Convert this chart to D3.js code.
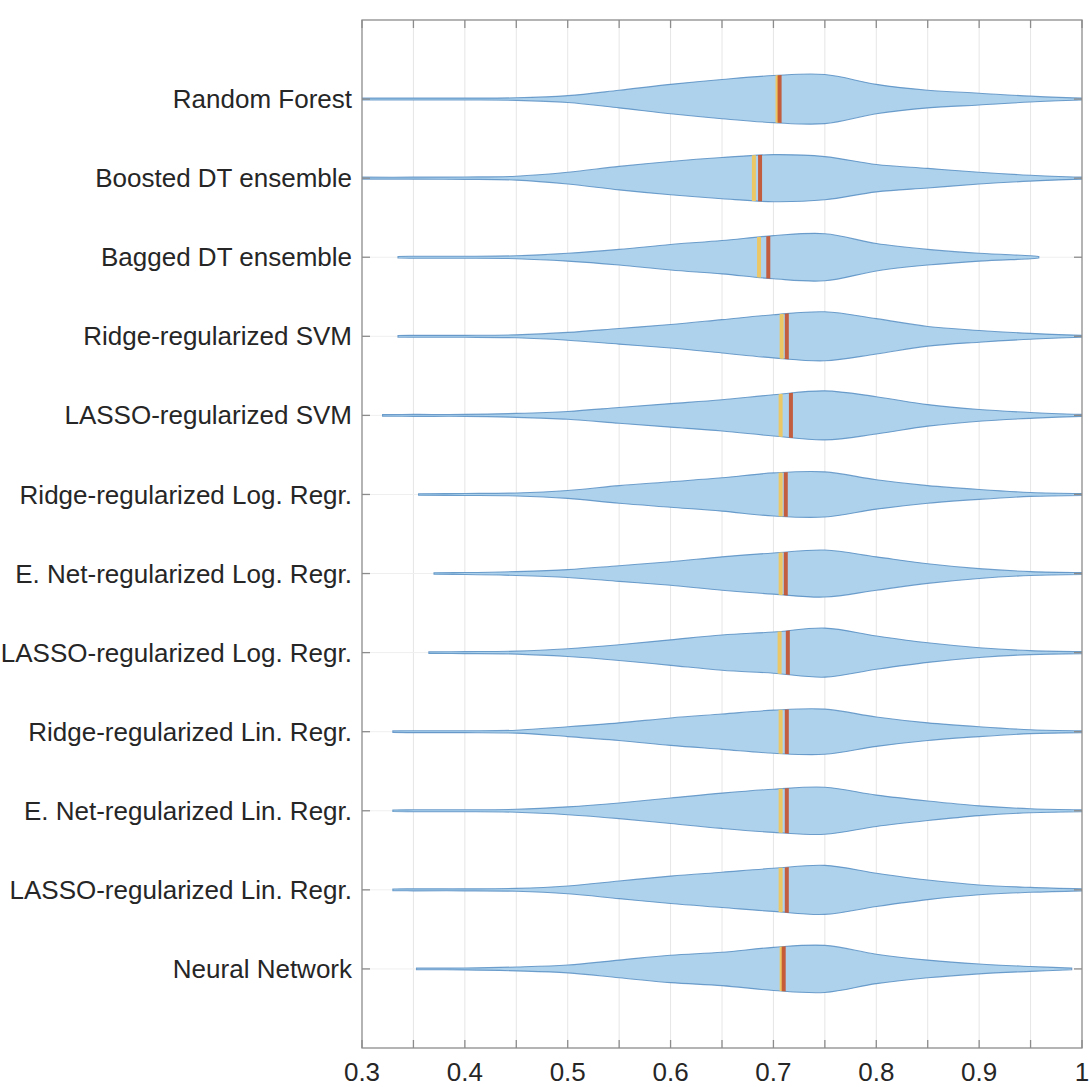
<!DOCTYPE html>
<html>
<head>
<meta charset="utf-8">
<script src="https://cdn.jsdelivr.net/npm/d3@7"></script>
<style>
  html, body { margin: 0; padding: 0; background: #fff; }
  svg { display: block; font-family: "Liberation Sans", Arial, Helvetica, sans-serif; }
</style>
</head>
<body>
<svg id="chart" width="1090" height="1087"></svg>
<script>
// Model names, top to bottom
const models = [
  "Random Forest",
  "Boosted DT ensemble",
  "Bagged DT ensemble",
  "Ridge-regularized SVM",
  "LASSO-regularized SVM",
  "Ridge-regularized Log. Regr.",
  "E. Net-regularized Log. Regr.",
  "LASSO-regularized Log. Regr.",
  "Ridge-regularized Lin. Regr.",
  "E. Net-regularized Lin. Regr.",
  "LASSO-regularized Lin. Regr.",
  "Neural Network"
];

// Score grid on which the kernel densities are tabulated
const scoreGrid = [0.30, 0.35, 0.40, 0.45, 0.50, 0.55, 0.60, 0.65, 0.70, 0.75, 0.80, 0.85, 0.90, 0.95, 1.00];

// Relative kernel density per model at each grid score (null = outside observed range)
const densities = [
  [1, 1, 1, 1.3, 3.5, 9, 15, 20, 24, 25, 15, 9, 6, 3, 1],
  [1, 1, 1.2, 2, 6, 12, 17, 21, 24, 22, 14, 10, 6, 3, 1],
  [null, 1, 1, 1.5, 4, 8, 13, 17, 22, 24, 14, 8, 4, 1.5, null],
  [null, 1, 1, 1.5, 4, 8, 12, 17, 22, 25, 18, 10, 6, 3, 1],
  [null, 1, 1, 2, 4, 8, 12, 16, 21, 25, 19, 11, 6, 3, 1],
  [null, null, 1, 1.5, 4, 9, 13, 17, 22, 23, 15, 9, 5, 2, 1],
  [null, null, 1, 2, 4, 8, 12, 17, 21, 24, 17, 10, 5, 2, 1],
  [null, null, 1, 1.5, 4, 8, 13, 18, 21, 25, 17, 10, 5, 2, 1],
  [null, 1, 1, 1.5, 5, 9, 14, 18, 22, 23, 15, 9, 5, 2, 1],
  [null, 1, 1, 1.5, 4, 8, 13, 18, 22, 24, 16, 10, 5, 2, 1],
  [null, 1, 1, 1.5, 4, 9, 14, 18, 22, 25, 17, 10, 5, 2.5, 1],
  [null, 1, 1, 2, 4, 9, 14, 17, 22, 24, 15, 9, 5, 2.5, 1]
];

// Observed minimum and maximum score per model
const minScore = [0.30, 0.30, 0.335, 0.335, 0.32, 0.355, 0.37, 0.365, 0.33, 0.33, 0.33, 0.353];
const maxScore = [1.00, 1.00, 0.958, 1.00, 1.00, 1.00, 1.00, 1.00, 1.00, 1.00, 1.00, 0.99];

// Mean and median score per model
const meanScore   = [0.704, 0.681, 0.686, 0.708, 0.707, 0.707, 0.707, 0.706, 0.707, 0.707, 0.707, 0.708];
const medianScore = [0.706, 0.687, 0.695, 0.713, 0.717, 0.712, 0.712, 0.714, 0.713, 0.713, 0.713, 0.710];

// Axis ticks
const xTicks = [0.30, 0.35, 0.40, 0.45, 0.50, 0.55, 0.60, 0.65, 0.70, 0.75, 0.80, 0.85, 0.90, 0.95, 1.00];
const xTickLabels = ["0.3", "", "0.4", "", "0.5", "", "0.6", "", "0.7", "", "0.8", "", "0.9", "", "1"];

// ---- layout ----
const svg = d3.select("#chart");
const plot = { left: 362, right: 1082, top: 20, bottom: 1048 };
const axisColor = "#8c8c8c";
const textColor = "#262626";
const fontSize = 26;
const tickLen = 8;

const x = d3.scaleLinear().domain([0.3, 1.0]).range([plot.left, plot.right]);
const y = d3.scaleLinear().domain([0, models.length + 1]).range([plot.top, plot.bottom]);
const halfWidth = d3.scaleLinear().domain([0, 25]).range([0, 0.31 * (y(1) - y(0))]);

svg.append("defs").append("clipPath").attr("id", "plotClip")
  .append("rect")
  .attr("x", plot.left).attr("y", plot.top)
  .attr("width", plot.right - plot.left).attr("height", plot.bottom - plot.top);

// grid
const grid = svg.append("g");
grid.selectAll("line.vg").data(xTicks.slice(1, -1)).join("line")
  .attr("x1", d => x(d)).attr("x2", d => x(d))
  .attr("y1", plot.top).attr("y2", plot.bottom)
  .attr("stroke", "#e6e6e6").attr("stroke-width", 1);
grid.selectAll("line.hg").data(models).join("line")
  .attr("x1", plot.left).attr("x2", plot.right)
  .attr("y1", (d, i) => y(i + 1)).attr("y2", (d, i) => y(i + 1))
  .attr("stroke", "#efefef").attr("stroke-width", 1);

// violins
const area = d3.area()
  .x(d => x(d[0]))
  .y0(d => -halfWidth(d[1]))
  .y1(d => halfWidth(d[1]))
  .curve(d3.curveCatmullRom.alpha(0.5));

const violins = svg.append("g").attr("clip-path", "url(#plotClip)");
const defs = svg.select("defs");

models.forEach((name, i) => {
  const pts = [];
  const lo = minScore[i], hi = maxScore[i];
  if (densities[i][0] === null || lo > scoreGrid[0]) pts.push([lo, 0.8]);
  scoreGrid.forEach((s, k) => {
    const v = densities[i][k];
    if (v !== null && s >= lo && s <= hi) pts.push([s, v]);
  });
  if (pts[pts.length - 1][0] < hi) pts.push([hi, 0.8]);

  const g = violins.append("g").attr("transform", `translate(0,${y(i + 1)})`);
  const pathD = area(pts);

  defs.append("clipPath").attr("id", "vclip" + i)
    .append("path").attr("d", pathD);

  g.append("path")
    .attr("d", pathD)
    .attr("fill", "rgb(174, 210, 236)")
    .attr("stroke", "rgb(80, 138, 192)")
    .attr("stroke-opacity", 0.8)
    .attr("stroke-width", 1.1);

  const h = halfWidth(26);
  const lines = g.append("g").attr("clip-path", `url(#vclip${i})`);
  lines.append("line")
    .attr("x1", x(meanScore[i])).attr("x2", x(meanScore[i]))
    .attr("y1", -h).attr("y2", h)
    .attr("stroke", "#ebc766").attr("stroke-width", 4);
  lines.append("line")
    .attr("x1", x(medianScore[i])).attr("x2", x(medianScore[i]))
    .attr("y1", -h).attr("y2", h)
    .attr("stroke", "#c4502c").attr("stroke-opacity", 0.9).attr("stroke-width", 4);
});

// axes box
const ax = svg.append("g").attr("stroke", axisColor).attr("stroke-width", 1.3).attr("fill", "none");
ax.append("rect")
  .attr("x", plot.left).attr("y", plot.top)
  .attr("width", plot.right - plot.left).attr("height", plot.bottom - plot.top);

// x ticks (bottom and top, inward)
xTicks.forEach(t => {
  ax.append("line").attr("x1", x(t)).attr("x2", x(t)).attr("y1", plot.bottom).attr("y2", plot.bottom - tickLen);
  ax.append("line").attr("x1", x(t)).attr("x2", x(t)).attr("y1", plot.top).attr("y2", plot.top + tickLen);
});
// y ticks (left and right, inward)
models.forEach((m, i) => {
  ax.append("line").attr("x1", plot.left).attr("x2", plot.left + tickLen).attr("y1", y(i + 1)).attr("y2", y(i + 1));
  ax.append("line").attr("x1", plot.right).attr("x2", plot.right - tickLen).attr("y1", y(i + 1)).attr("y2", y(i + 1));
});

// x tick labels
svg.append("g").selectAll("text").data(xTicks).join("text")
  .attr("x", d => x(d))
  .attr("y", plot.bottom + 33)
  .attr("text-anchor", "middle")
  .attr("font-size", fontSize)
  .attr("fill", textColor)
  .text((d, i) => xTickLabels[i]);

// category labels
svg.append("g").selectAll("text").data(models).join("text")
  .attr("x", plot.left - 10)
  .attr("y", (d, i) => y(i + 1))
  .attr("dy", "0.35em")
  .attr("text-anchor", "end")
  .attr("font-size", fontSize)
  .attr("fill", textColor)
  .text(d => d);
</script>
</body>
</html>
